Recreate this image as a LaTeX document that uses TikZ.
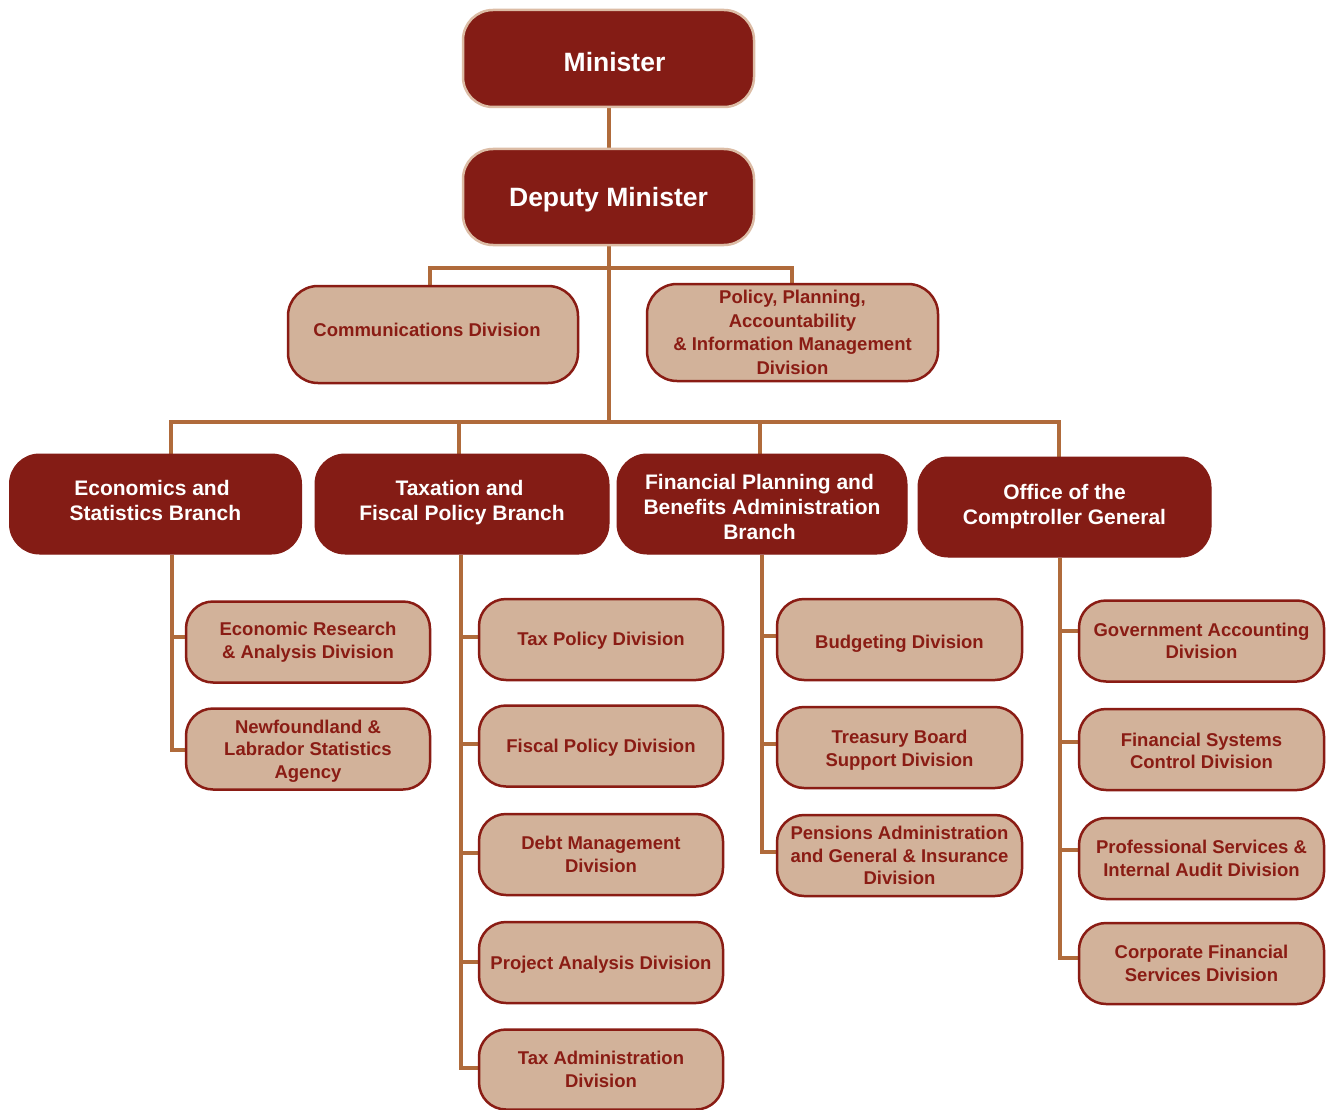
\documentclass[tikz,border=0pt]{standalone}
\usepackage{fontspec}
\setmainfont{Liberation Sans}
\usetikzlibrary{backgrounds}
\definecolor{dred}{HTML}{841C15}
\definecolor{tbord}{HTML}{DCBCA5}
\definecolor{tanfill}{HTML}{D2B29A}
\definecolor{cbord}{HTML}{8A1C14}
\definecolor{lcol}{HTML}{B06B3B}
\tikzset{
  topbox/.style={draw=tbord, line width=2.5pt, fill=dred, rounded corners=30pt, text=white, align=center, inner sep=0pt,
    font=\bfseries\fontsize{26.5pt}{31pt}\selectfont, minimum width=291pt, minimum height=97pt},
  branchbox/.style={draw=dred, line width=1pt, fill=dred, rounded corners=30pt, text=white, align=center, inner sep=0pt,
    font=\bfseries\fontsize{21pt}{25pt}\selectfont, minimum width=292pt, minimum height=100pt},
  divbox/.style={draw=cbord, line width=2.5pt, fill=tanfill, rounded corners=30pt, text=cbord, align=center, inner sep=0pt,
    font=\bfseries\fontsize{18.5pt}{23.5pt}\selectfont, minimum width=290pt, minimum height=97pt},
  childbox/.style={draw=cbord, line width=2.5pt, fill=tanfill, rounded corners=27pt, text=cbord, align=center, inner sep=0pt,
    font=\bfseries\fontsize{18.5pt}{22.5pt}\selectfont, minimum width=244pt, minimum height=81pt},
  conn/.style={draw=lcol, line width=4pt}
}
\begin{document}
\begin{tikzpicture}[x=1pt,y=-1pt]
\useasboundingbox (0,0) rectangle (1330,1110);

% top
\node[topbox, text height=25.5pt, text depth=0pt] (min) at (608.5,58.5) {\hspace*{12pt}Minister};
\node[topbox, minimum height=96pt, text height=18.5pt, text depth=0pt] (dep) at (608.5,197) {Deputy Minister};

\node[divbox, text height=4.5pt, text depth=0pt] (comm) at (433,334.5) {Communications Division\hspace*{12pt}};
\node[divbox, minimum width=291pt] (ppa) at (792.5,332.5) {Policy, Planning,\\Accountability\\\&~Information Management\\Division};

% branches
\node[branchbox] (econ) at (155.5,504) {Economics and\hspace*{7pt}\\Statistics Branch\hspace*{7pt}\\[-17pt]};
\node[branchbox, minimum width=294pt] (tax) at (462,504) {Taxation and\hspace*{5pt}\\Fiscal Policy Branch\hspace*{5pt}\\[-17pt]};
\node[branchbox, minimum width=290pt] (fin) at (762,504) {\rule{0pt}{22pt}Financial Planning and\hspace*{5pt}\\Benefits Administration\hspace*{5pt}\\Branch\hspace*{5pt}};
\node[branchbox, minimum width=293pt] (ocg) at (1064.5,507) {Office of the\\Comptroller General};

% economics children
\node[childbox] (er) at (308,642) {Economic Research\\\&~Analysis Division};
\node[childbox] (nl) at (308,749) {\rule{0pt}{17.5pt}Newfoundland \&\\Labrador Statistics\\Agency};

% taxation children
\node[childbox, text height=12.25pt, text depth=0pt] (tp) at (601,639.5) {Tax Policy Division};
\node[childbox, text height=13.25pt, text depth=0pt] (fp) at (601,746) {Fiscal Policy Division};
\node[childbox] (dm) at (601,854.5) {Debt Management\\Division};
\node[childbox, text height=14.25pt, text depth=0pt] (pa) at (601,962.5) {Project Analysis Division};
\node[childbox, minimum height=80pt] (ta) at (601,1069.5) {Tax Administration\\Division};

% financial planning children
\node[childbox, minimum width=245pt, text height=18.25pt, text depth=0pt] (bd) at (899.5,639.5) {Budgeting Division};
\node[childbox, minimum width=245pt] (tb) at (899.5,747.5) {\rule{0pt}{18.5pt}Treasury Board\\Support Division};
\node[childbox, minimum width=245pt] (pn) at (899.5,855.5) {Pensions Administration\\and General \& Insurance\\Division};

% comptroller children
\node[childbox, minimum width=245pt] (ga) at (1201.5,641) {Government Accounting\\Division};
\node[childbox, minimum width=245pt] (fs) at (1201.5,749.5) {\rule{0pt}{16.5pt}Financial Systems\\Control Division};
\node[childbox, minimum width=245pt] (ps) at (1201.5,858.5) {Professional Services \&\\Internal Audit Division};
\node[childbox, minimum width=245pt] (cf) at (1201.5,963.5) {Corporate Financial\\Services Division};

% connector coordinates
\coordinate (cx) at (430,268);
\coordinate (px) at (792,268);
\coordinate (ex) at (171,422);
\coordinate (tx) at (459,422);
\coordinate (fx) at (760,422);
\coordinate (ox) at (1059,422);
\coordinate (es) at (172,0);
\coordinate (ts) at (461,0);
\coordinate (fs0) at (762,0);
\coordinate (os) at (1060,0);

\begin{scope}[on background layer]
\fill[white] (0,0) rectangle (1330,1110);
\draw[conn] (min.south) -- (dep.north);
\draw[conn] (dep.south) -- (dep.south |- ex);
\draw[conn] (comm.north -| cx) -- (cx) -- (px) -- (ppa.north -| px);
\draw[conn] (econ.north -| ex) -- (ex) -- (ox) -- (ocg.north -| ox);
\draw[conn] (tx) -- (tax.north -| tx);
\draw[conn] (fx) -- (fin.north -| fx);
% economics
\draw[conn] (econ.south -| es) |- ([yshift=-1pt]nl.west);
\draw[conn] ([yshift=5pt]er.west -| es) -- ([yshift=5pt]er.west);
% taxation
\draw[conn] (tax.south -| ts) |- ([yshift=2pt]ta.west);
\draw[conn] ([yshift=3pt]tp.west -| ts) -- ([yshift=3pt]tp.west);
\draw[conn] ([yshift=2pt]fp.west -| ts) -- ([yshift=2pt]fp.west);
\draw[conn] ([yshift=2pt]dm.west -| ts) -- ([yshift=2pt]dm.west);
\draw[conn] ([yshift=1pt]pa.west -| ts) -- ([yshift=1pt]pa.west);
% financial planning
\draw[conn] (fin.south -| fs0) |- ([yshift=4pt]pn.west);
\draw[conn] ([yshift=4pt]bd.west -| fs0) -- ([yshift=4pt]bd.west);
\draw[conn] ([yshift=4pt]tb.west -| fs0) -- ([yshift=4pt]tb.west);
% comptroller
\draw[conn] (ocg.south -| os) |- ([yshift=6pt]cf.west);
\draw[conn] ([yshift=10pt]ga.west -| os) -- ([yshift=10pt]ga.west);
\draw[conn] ([yshift=8pt]fs.west -| os) -- ([yshift=8pt]fs.west);
\draw[conn] ([yshift=9pt]ps.west -| os) -- ([yshift=9pt]ps.west);
\end{scope}
\end{tikzpicture}
\end{document}
